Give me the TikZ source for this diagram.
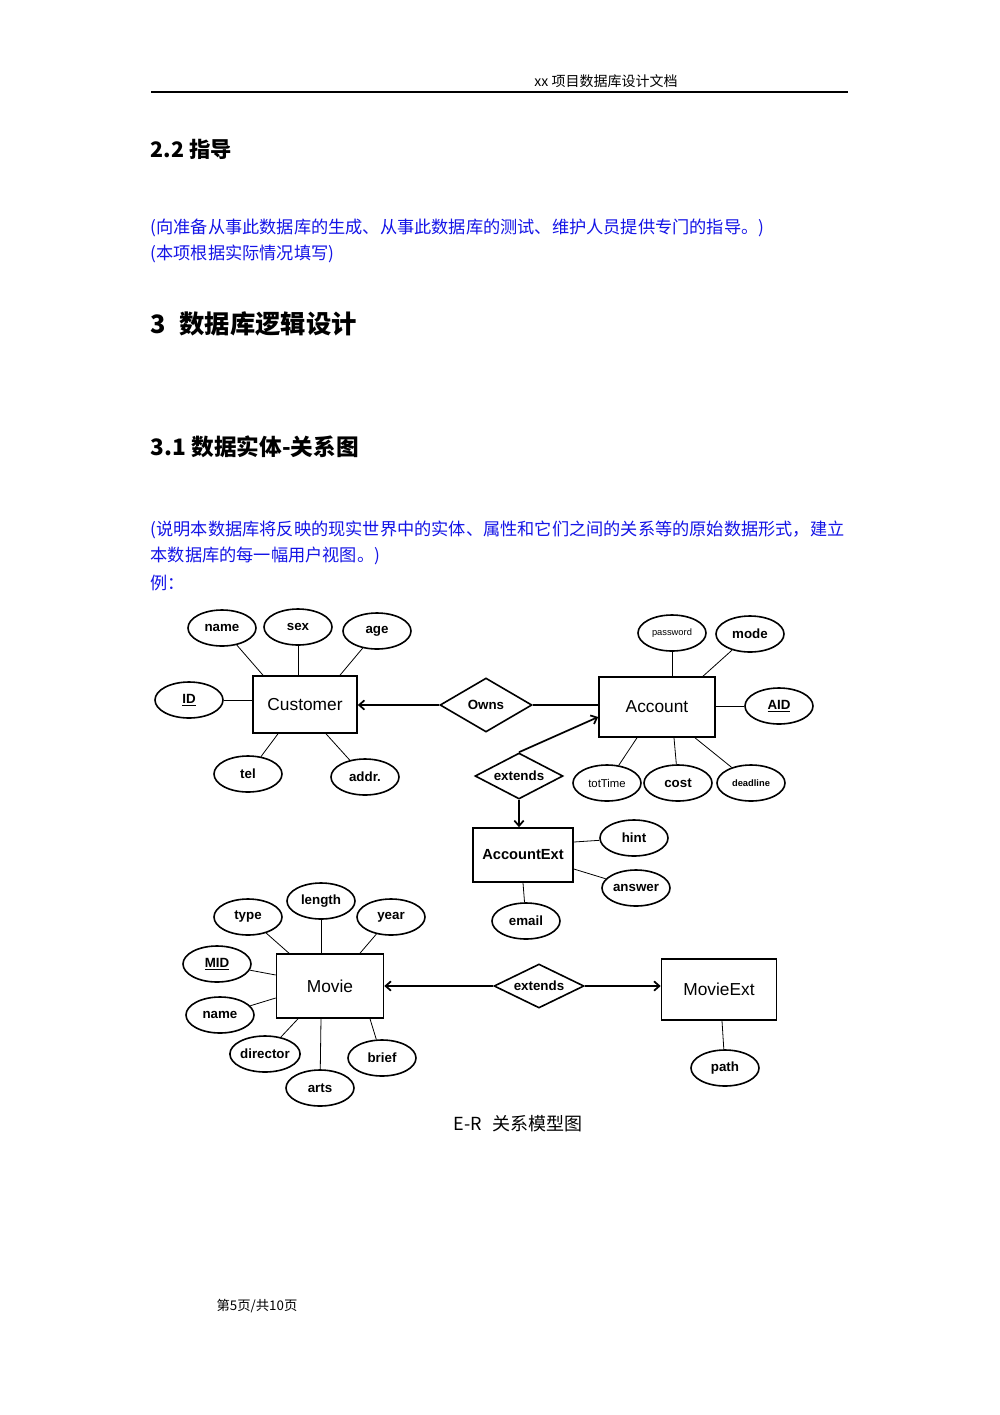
\documentclass[tikz,border=0pt]{standalone}
\usepackage{fontspec}
\setmainfont{Liberation Serif}
\setsansfont{Liberation Sans}
\newfontfamily\cjk{Noto Sans CJK SC}
\usetikzlibrary{shapes.geometric,arrows.meta}
\definecolor{blu}{RGB}{20,20,230}
\begin{document}
\begin{tikzpicture}[x=0.75pt,y=-0.75pt,
  attr/.style={ellipse,draw,line width=1.2pt,minimum width=68pt*0.75,minimum height=36pt*0.75,inner sep=0pt,font=\sffamily\bfseries\fontsize{10}{12}\selectfont},
  ent/.style={rectangle,draw,line width=1.2pt,inner sep=0pt,font=\sffamily\fontsize{13}{15}\selectfont},
  rel/.style={diamond,draw,line width=1.2pt,inner sep=0pt,aspect=2,font=\sffamily\bfseries\fontsize{10}{12}\selectfont},
  ln/.style={line width=0.6pt},
  arr/.style={line width=1.3pt,-{Straight Barb[length=4pt,width=7pt]}},
  blue/.style={anchor=west,text=blu,font=\cjk\fontsize{12.9}{14}\selectfont},
]
\useasboundingbox (0,0) rectangle (1000,1415);
% header
\node[font=\cjk\fontsize{10.5}{12}\selectfont] (hdr) at (606,81) {xx 项目数据库设计文档};
\draw[line width=0.8pt] (151,92) coordinate (hl) -- (848,92) coordinate (hr);
\node[anchor=west,font=\cjk\bfseries\fontsize{16}{18}\selectfont] (h22) at (146,149) {2.2 指导};
\node[blue] (b1) at (146,228) {(向准备从事此数据库的生成、从事此数据库的测试、维护人员提供专门的指导。)};
\node[blue] (b2) at (146,254) {(本项根据实际情况填写)};
\node[anchor=west,font=\cjk\bfseries\fontsize{19}{22}\selectfont] (h3) at (146,324) {3\hspace{10pt}数据库逻辑设计};
\node[anchor=west,font=\cjk\bfseries\fontsize{17}{20}\selectfont] (h31) at (146,447) {3.1 数据实体-关系图};
\node[blue] (b3) at (146,530) {(说明本数据库将反映的现实世界中的实体、属性和它们之间的关系等的原始数据形式，建立};
\node[blue] (b4) at (146,556) {本数据库的每一幅用户视图。)};
\node[blue] (b5) at (146,583) {例：};
% entities
\node[ent,minimum width=104*0.75pt,minimum height=57*0.75pt] (cust) at (305,704.5) {Customer};
\node[ent,minimum width=116*0.75pt,minimum height=60*0.75pt] (acc) at (657,707) {Account};
\node[ent,minimum width=100*0.75pt,minimum height=54*0.75pt,font=\sffamily\bfseries\fontsize{11}{13}\selectfont] (ax) at (523,855) {AccountExt};
\node[ent,minimum width=107*0.75pt,minimum height=64*0.75pt] (mov) at (330,986) {Movie};
\node[ent,minimum width=115*0.75pt,minimum height=61*0.75pt] (mx) at (719,989.5) {MovieExt};
% relations
\node[rel,minimum width=92*0.75pt,minimum height=54*0.75pt] (owns) at (486,705) {Owns};
\node[rel,minimum width=88*0.75pt,minimum height=46*0.75pt] (ext1) at (519,776) {extends};
\node[rel,minimum width=90*0.75pt,minimum height=44*0.75pt] (ext2) at (539,986) {extends};
% attributes
\node[attr] (cname) at (222,628) {name};
\node[attr] (csex) at (298,627) {sex};
\node[attr] (cage) at (377,631) {age};
\node[attr] (cid) at (189,700) {\underline{ID}};
\node[attr] (ctel) at (248,774) {tel};
\node[attr] (caddr) at (365,777) {addr.};
\node[attr,font=\sffamily\fontsize{7}{8}\selectfont] (apw) at (672,633) {password};
\node[attr] (amode) at (750,634) {mode};
\node[attr] (aid) at (779,706) {\underline{AID}};
\node[attr,font=\sffamily\fontsize{8.5}{10}\selectfont] (atot) at (607,783) {totTime};
\node[attr] (acost) at (678,783) {cost};
\node[attr,font=\sffamily\bfseries\fontsize{7}{8}\selectfont] (adl) at (751,783) {deadline};
\node[attr] (hint) at (634,838) {hint};
\node[attr] (ans) at (636,888) {answer};
\node[attr] (email) at (526,921) {email};
\node[attr] (mtype) at (248,917) {type};
\node[attr] (mlen) at (321,901) {length};
\node[attr] (myear) at (391,917) {year};
\node[attr] (mid) at (217,964) {\underline{MID}};
\node[attr] (mname) at (220,1015) {name};
\node[attr] (mdir) at (265,1054) {director};
\node[attr] (mbrief) at (382,1058) {brief};
\node[attr] (marts) at (320,1088) {arts};
\node[attr] (path) at (725,1068) {path};
% attribute lines
\draw[ln] (cname) -- (cust.north -| 263,0);
\draw[ln] (csex) -- (cust.north -| 298,0);
\draw[ln] (cage) -- (cust.north -| 340,0);
\draw[ln] (cid) -- (cust.west |- 0,700);
\draw[ln] (ctel) -- (cust.south -| 278,0);
\draw[ln] (caddr) -- (cust.south -| 326,0);
\draw[ln] (apw) -- (acc.north -| 672,0);
\draw[ln] (amode) -- (acc.north -| 703,0);
\draw[ln] (aid) -- (acc.east |- 0,706);
\draw[ln] (atot) -- (acc.south -| 637,0);
\draw[ln] (acost) -- (acc.south -| 674,0);
\draw[ln] (adl) -- (acc.south -| 695,0);
\draw[ln] (hint) -- (ax.east |- 0,842);
\draw[ln] (ans) -- (ax.east |- 0,869);
\draw[ln] (email) -- (ax.south -| 523,0);
\draw[ln] (mtype) -- (mov.north -| 289,0);
\draw[ln] (mlen) -- (mov.north -| 321,0);
\draw[ln] (myear) -- (mov.north -| 360,0);
\draw[ln] (mid) -- (mov.west |- 0,975);
\draw[ln] (mname) -- (mov.west |- 0,998);
\draw[ln] (mdir) -- (mov.south -| 298,0);
\draw[ln] (mbrief) -- (mov.south -| 370,0);
\draw[ln] (marts) -- (mov.south -| 321,0);
\draw[ln] (path) -- (mx.south -| 722,0);
% relationship lines
\draw[arr] (owns.west) -- (cust.east |- owns.west);
\draw[line width=1.3pt] (owns.east) -- (acc.west |- owns.east);
\draw[arr] (ext1.north) -- (acc.west |- 0,717);
\draw[arr] (ext1.south) -- (ax.north -| ext1.south);
\draw[arr] (ext2.west) -- (mov.east |- ext2.west);
\draw[arr] (ext2.east) -- (mx.west |- ext2.east);
% caption and footer
\node[font=\cjk\fontsize{13.5}{16}\selectfont] (cap) at (518,1124) {E-R\hspace{8pt}关系模型图};
\node[font=\cjk\fontsize{10}{12}\selectfont] (ftr) at (257,1306) {第5页/共10页};
\end{tikzpicture}
\end{document}
